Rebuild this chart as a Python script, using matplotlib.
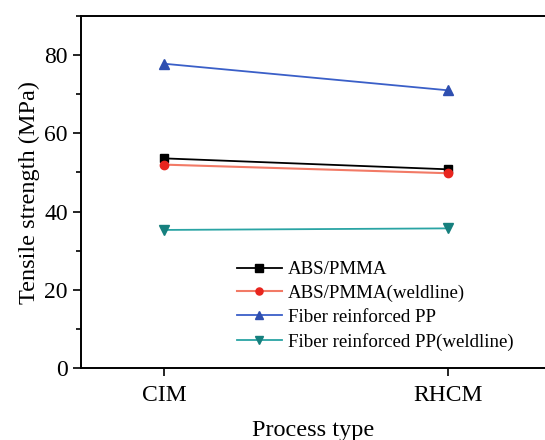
import numpy as np
import matplotlib.pyplot as plt
from matplotlib.ticker import MultipleLocator

plt.rcParams['font.family'] = ['Liberation Serif', 'DejaVu Serif']

process = ['CIM', 'RHCM']
abs_pmma = [53.6, 50.8]
abs_pmma_weld = [52.0, 49.8]
fiber_pp = [77.8, 71.0]
fiber_pp_weld = [35.3, 35.7]

x = np.arange(1, len(process) + 1)

fig = plt.figure(figsize=(5.45, 4.4), dpi=100)
ax = fig.add_axes([81/545, 1 - 368/440, 1 - 81/545, (368 - 16)/440])

ax.plot(x, abs_pmma, color='black', marker='s', ms=6, lw=1.3, label='ABS/PMMA')
ax.plot(x, abs_pmma_weld, color='#f27a66', marker='o', ms=6, mfc='#e8251e', mec='#e8251e',
        lw=1.5, label='ABS/PMMA(weldline)')
ax.plot(x, fiber_pp, color='#3a5fc8', marker='^', ms=7, mfc='#2f4fb0', mec='#2f4fb0',
        lw=1.3, label='Fiber reinforced PP')
ax.plot(x, fiber_pp_weld, color='#2aa4a4', marker='v', ms=7, mfc='#16807e', mec='#16807e',
        lw=1.3, label='Fiber reinforced PP(weldline)')

ax.set_xlim(1 - 83/284, 2 + 97/284)
ax.set_ylim(0, 90)
ax.set_xticks(x)
ax.set_xticklabels(process)
ax.yaxis.set_major_locator(MultipleLocator(20))
ax.yaxis.set_minor_locator(MultipleLocator(10))
ax.tick_params(axis='both', which='major', direction='out', length=6, width=1.2, labelsize=17)
ax.tick_params(axis='x', which='major', pad=6)
ax.tick_params(axis='y', which='minor', direction='out', length=3.5, width=1.2)
ax.spines['right'].set_visible(False)
for s in ['left', 'top', 'bottom']:
    ax.spines[s].set_linewidth(1.4)

ax.set_ylabel('Tensile strength (MPa)', fontsize=17.5, labelpad=3)
ax.set_xlabel('Process type', fontsize=17.5, labelpad=10)

ax.legend(loc='lower left', bbox_to_anchor=(0.307, 0.012), frameon=False, fontsize=13.6,
          handlelength=2.4, labelspacing=0.35, handletextpad=0.3, borderpad=0.2,
          markerscale=0.85)

fig.savefig('out.png', dpi=100)
